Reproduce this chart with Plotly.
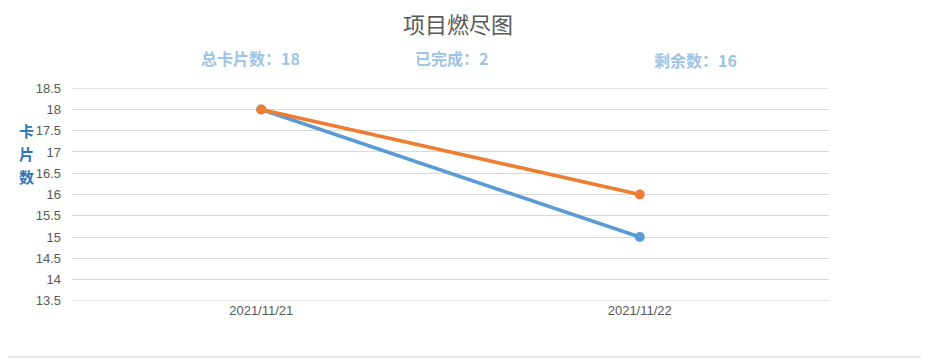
import plotly.graph_objects as go

categories = ["2021/11/21", "2021/11/22"]
ideal_remaining = [18, 15]
actual_remaining = [18, 16]
y_ticks = [13.5, 14, 14.5, 15, 15.5, 16, 16.5, 17, 17.5, 18, 18.5]
y_title_chars = ["卡", "片", "数"]
total_cards = 18
done_cards = 2
left_cards = 16

# page is 929x360; the html body has an 8px margin, so the figure is 8px smaller
OFF = 8
W, H = 929 - OFF, 360 - OFF
L, R, T, B = 72 - OFF, 100, 88 - OFF, 59

fig = go.Figure()
fig.add_trace(go.Scatter(x=categories, y=ideal_remaining, mode="lines+markers",
                         line=dict(color="#5B9BD5", width=3.5),
                         marker=dict(color="#5B9BD5", size=10), name="理想"))
fig.add_trace(go.Scatter(x=categories, y=actual_remaining, mode="lines+markers",
                         line=dict(color="#ED7D31", width=3.5),
                         marker=dict(color="#ED7D31", size=10), name="实际"))

font_cjk = "Noto Sans CJK SC, Noto Sans, sans-serif"

def px_x(x):
    # x given in page pixels
    return (x - OFF - L) / (W - L - R)

def px_y(y):
    return 1 - (y - OFF - T) / (H - T - B)

annots = [
    dict(text="项目燃尽图", x=px_x(458), y=px_y(23), font=dict(size=22, color="#595959", family=font_cjk)),
    dict(text=f"<b>总卡片数：{total_cards}</b>", x=px_x(250), y=px_y(58), font=dict(size=16, color="#9DC3E6", family=font_cjk)),
    dict(text=f"<b>已完成：{done_cards}</b>", x=px_x(451), y=px_y(58), font=dict(size=16, color="#9DC3E6", family=font_cjk)),
    dict(text=f"<b>剩余数：{left_cards}</b>", x=px_x(695), y=px_y(60), font=dict(size=16, color="#9DC3E6", family=font_cjk)),
]
for i, ch in enumerate(y_title_chars):
    annots.append(dict(text=f"<b>{ch}</b>", x=px_x(26), y=px_y(130 + 23 * i),
                       font=dict(size=15, color="#2E75B6", family=font_cjk)))
for a in annots:
    a.update(xref="paper", yref="paper", showarrow=False, xanchor="center", yanchor="middle")

edge_grid = [dict(type="line", xref="paper", yref="y", x0=0, x1=1, y0=v, y1=v, layer="below",
                  line=dict(color="#D9D9D9", width=1)) for v in (y_ticks[0], y_ticks[-1])]

fig.update_layout(
    width=W, height=H,
    margin=dict(l=L, r=R, t=T, b=B),
    paper_bgcolor="white", plot_bgcolor="white",
    showlegend=False,
    annotations=annots,
    font=dict(family="Liberation Sans, Noto Sans, sans-serif", size=13, color="#595959"),
    xaxis=dict(type="category", range=[-0.5, 1.5], showgrid=False, showline=False,
               ticks="", tickfont=dict(size=13, color="#595959"), fixedrange=True),
    yaxis=dict(range=[13.495, 18.505], tickvals=y_ticks, ticktext=[f"{v:g}" for v in y_ticks],
               showgrid=True, gridcolor="#D9D9D9", gridwidth=1, zeroline=False,
               showline=False, ticks="", ticklabelstandoff=10,
               tickfont=dict(size=13, color="#595959"), fixedrange=True),
    shapes=edge_grid + [
        dict(type="line", xref="paper", yref="paper", x0=px_x(0), x1=px_x(929), y0=px_y(357), y1=px_y(357),
             line=dict(color="#D0D4D9", width=1)),
        dict(type="line", xref="paper", yref="paper", x0=px_x(926), x1=px_x(926), y0=px_y(0), y1=px_y(357),
             line=dict(color="#D0D4D9", width=1)),
    ],
)

fig.write_html("out.html")
